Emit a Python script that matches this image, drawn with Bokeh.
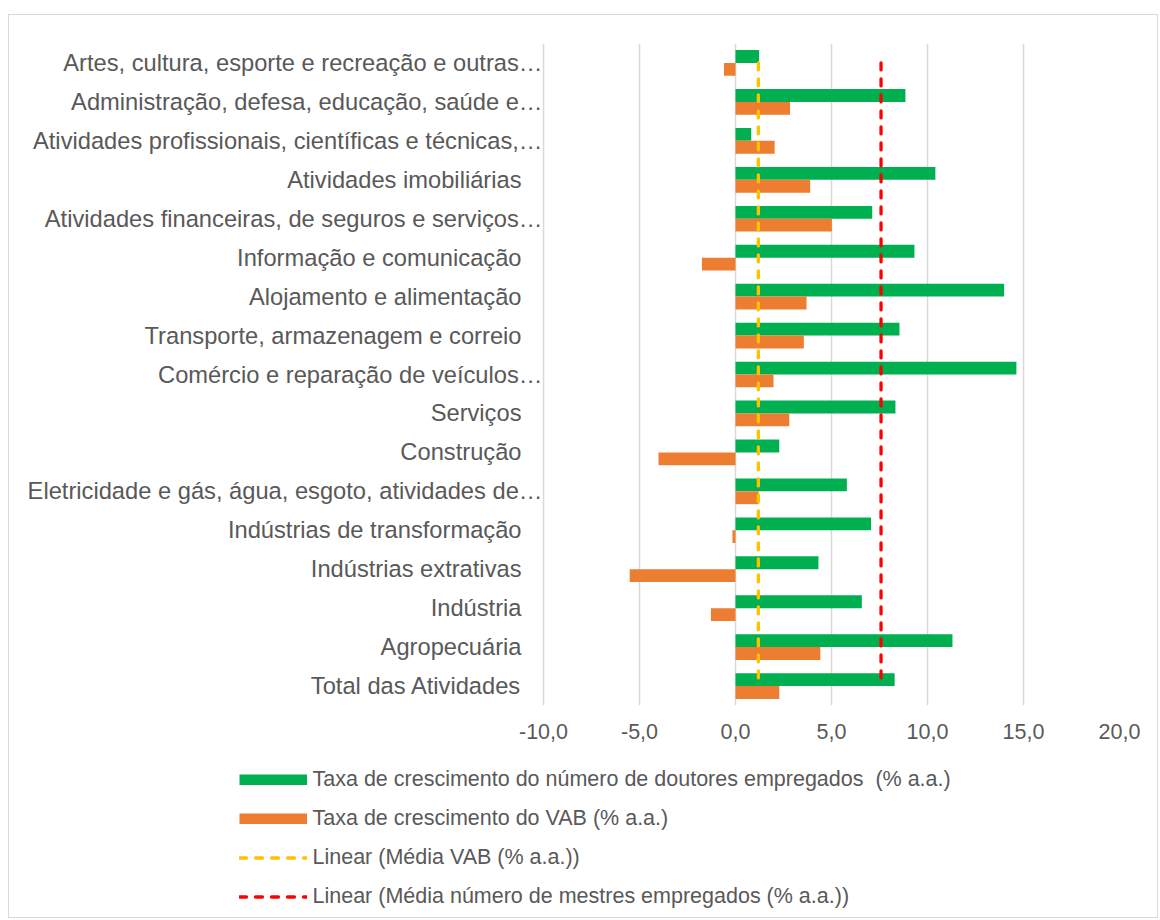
from bokeh.plotting import figure
from bokeh.layouts import column
from bokeh.models import (Range1d, FixedTicker, ColumnDataSource, LabelSet,
                          Legend, LegendItem)
from bokeh.core.properties import value
from bokeh.transform import dodge
from bokeh.embed import file_html
from bokeh.resources import INLINE

# Sectors, listed top to bottom
CATEGORIES = [
    "Artes, cultura, esporte e recreação e outras…",
    "Administração, defesa, educação, saúde e…",
    "Atividades profissionais, científicas e técnicas,…",
    "Atividades imobiliárias",
    "Atividades financeiras, de seguros e serviços…",
    "Informação e comunicação",
    "Alojamento e alimentação",
    "Transporte, armazenagem e correio",
    "Comércio e reparação de veículos…",
    "Serviços",
    "Construção",
    "Eletricidade e gás, água, esgoto, atividades de…",
    "Indústrias de transformação",
    "Indústrias extrativas",
    "Indústria",
    "Agropecuária",
    "Total das Atividades",
]

# Growth of employed PhDs (% a.a.)
DOUTORES = [1.23, 8.85, 0.82, 10.41, 7.12, 9.32, 13.99, 8.54, 14.63,
            8.33, 2.28, 5.80, 7.06, 4.32, 6.58, 11.30, 8.29]

# Growth of gross value added (% a.a.)
VAB = [-0.60, 2.84, 2.04, 3.89, 5.02, -1.75, 3.70, 3.56, 1.98,
       2.80, -4.01, 1.21, -0.16, -5.51, -1.28, 4.42, 2.28]

# Reference averages drawn as dashed vertical lines
MEDIA_VAB = 1.19
MEDIA_MESTRES = 7.58

X_TICKS = [-10, -5, 0, 5, 10, 15, 20]
X_TICK_LABELS = ["-10,0", "-5,0", "0,0", "5,0", "10,0", "15,0", "20,0"]

LEGEND_LABELS = [
    "Taxa de crescimento do número de doutores empregados  (% a.a.)",
    "Taxa de crescimento do VAB (% a.a.)",
    "Linear (Média VAB (% a.a.))",
    "Linear (Média número de mestres empregados (% a.a.))",
]

GREEN = "#00B050"
ORANGE = "#ED7D31"
YELLOW = "#FFC000"
RED = "#FF0000"
GREY_TEXT = "#595959"
GRID = "#D9D9D9"
FONT = "Liberation Sans"

# Layout in pixels: the frame also holds the category labels on its left,
# while the value scale itself occupies only the right-hand PLOT_W pixels.
TOTAL_W = 1148
FRAME_W, FRAME_H = 1110, 662
PLOT_W = 576
TOP, AXIS_H = 28, 40
LEGEND_H = 172
X_MIN, X_MAX = X_TICKS[0], X_TICKS[-1]
x_start = X_MIN - (FRAME_W - PLOT_W) / PLOT_W * (X_MAX - X_MIN)

n = len(CATEGORIES)
idx = list(range(n))

source = ColumnDataSource(dict(
    y=idx,
    cat=CATEGORIES,
    doutores=DOUTORES,
    vab=VAB,
    label_x=[X_MIN] * n,
    # labels cut with an ellipsis sit flush against the value area
    label_off=[-1 if c.endswith("…") else -22 for c in CATEGORIES],
))
src_mvab = ColumnDataSource(dict(x=[MEDIA_VAB] * 2, y=[idx[0], idx[-1]]))
src_mmes = ColumnDataSource(dict(x=[MEDIA_MESTRES] * 2, y=[idx[0], idx[-1]]))

p = figure(
    width=TOTAL_W, height=TOP + FRAME_H + AXIS_H,
    x_range=Range1d(x_start, X_MAX),
    y_range=Range1d(n - 0.5, -0.5),
    y_axis_location=None,
    toolbar_location=None,
    output_backend="svg",
    min_border_left=0, min_border_right=TOTAL_W - FRAME_W,
    min_border_top=TOP, min_border_bottom=AXIS_H,
)
p.outline_line_color = None
p.background_fill_color = "white"
p.border_fill_color = "white"

# x axis: no line, no ticks, comma-decimal labels
xa = p.xaxis[0]
xa.ticker = FixedTicker(ticks=X_TICKS)
xa.major_label_overrides = {t: lab for t, lab in zip(X_TICKS, X_TICK_LABELS)}
xa.axis_line_color = None
xa.major_tick_line_color = None
xa.minor_tick_line_color = None
xa.major_label_standoff = 12
xa.major_label_text_font = FONT
xa.major_label_text_font_size = "21.5px"
xa.major_label_text_color = GREY_TEXT

p.xgrid.grid_line_color = GRID
p.xgrid.grid_line_width = 1.5
p.xgrid.ticker = FixedTicker(ticks=X_TICKS)
p.ygrid.grid_line_color = None

bar_h = 0.33
p.hbar(y=dodge("y", -bar_h / 2, range=p.y_range), left=0, right="doutores",
       height=bar_h, source=source, fill_color=GREEN, line_color=None)
p.hbar(y=dodge("y", bar_h / 2, range=p.y_range), left=0, right="vab",
       height=bar_h, source=source, fill_color=ORANGE, line_color=None)

dash_style = dict(line_width=3.3, line_dash="7 9", line_cap="round")
p.line(x="x", y="y", source=src_mvab, line_color=YELLOW, **dash_style)
p.line(x="x", y="y", source=src_mmes, line_color=RED, **dash_style)

labels = LabelSet(
    x="label_x", y="y", text="cat", x_offset="label_off", source=source,
    text_align="right", text_baseline="middle",
    text_font=value(FONT), text_font_size=value("23.7px"),
    text_color=value(GREY_TEXT),
)
p.add_layout(labels)

# Legend strip underneath the chart; its keys are hidden renderers on the
# same data, styled like the series (bars keyed as solid 11px swatches)
lg = figure(
    width=TOTAL_W, height=LEGEND_H,
    x_range=Range1d(0, 1), y_range=Range1d(0, 1),
    x_axis_location=None, y_axis_location=None,
    toolbar_location=None, output_backend="svg",
    min_border_left=0, min_border_right=0, min_border_top=0, min_border_bottom=0,
)
lg.outline_line_color = None
lg.xgrid.visible = False
lg.ygrid.visible = False
swatch = dict(line_width=11, line_cap="butt", visible=False)
k_doc = lg.line(x="doutores", y="y", source=source, line_color=GREEN, **swatch)
k_vab = lg.line(x="vab", y="y", source=source, line_color=ORANGE, **swatch)
k_mvab = lg.line(x="x", y="y", source=src_mvab, line_color=YELLOW, visible=False, **dash_style)
k_mmes = lg.line(x="x", y="y", source=src_mmes, line_color=RED, visible=False, **dash_style)

legend = Legend(
    items=[LegendItem(label=lab, renderers=[r])
           for lab, r in zip(LEGEND_LABELS, [k_doc, k_vab, k_mvab, k_mmes])],
    location=(229.5, 8.5),
    orientation="vertical",
    glyph_width=68, glyph_height=11,
    label_height=25, label_standoff=6,
    spacing=14, padding=0, margin=0,
    border_line_color=None, background_fill_alpha=0,
    inactive_fill_alpha=0,
    label_text_font=FONT, label_text_font_size="21.5px",
    label_text_color=GREY_TEXT,
)
lg.add_layout(legend, "center")

page = column(p, lg, spacing=0)
page.margin = (14, 0, 0, 8)
page.styles = {"border": "1.5px solid #D9D9D9", "background-color": "white"}

open("out.html", "w").write(file_html(page, INLINE))
